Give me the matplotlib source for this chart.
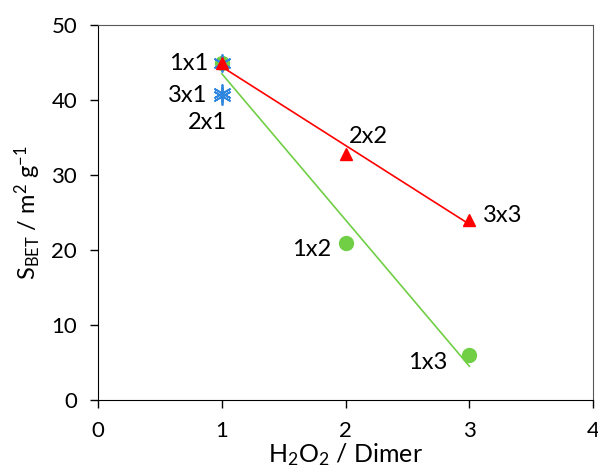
import numpy as np
import matplotlib
matplotlib.use('Agg')
import matplotlib.pyplot as plt

plt.rcParams['font.family'] = ['Lato', 'DejaVu Sans']
plt.rcParams['mathtext.default'] = 'regular'

# datos
x_green = [1, 2, 3]
y_green = [45.0, 21.0, 6.0]
x_red = [1, 2, 3]
y_red = [45.0, 32.8, 24.0]
x_blue = [1, 1, 1]
y_blue = [45.0, 41.0, 40.6]

etiquetas = ['1x1', '3x1', '2x1', '2x2', '3x3', '1x2', '1x3']
pos_x = [0.89, 0.88, 0.885, 2.03, 3.11, 1.88, 2.82]
pos_y = [44.9, 40.6, 37.0, 35.1, 24.6, 20.1, 5.0]
alineacion = ['right', 'right', 'center', 'left', 'left', 'right', 'right']

verde = '#70CF45'
rojo = '#FF0000'
azul = '#2E86DE'

fig = plt.figure(figsize=(5.98, 4.72), dpi=100)
ax = fig.add_axes([0.164, 0.1525, 0.828, 0.7945])

# lineas de tendencia (ajuste lineal)
xs = np.array([1, 3])
p_g = np.polyfit(x_green, y_green, 1)
p_r = np.polyfit(x_red, y_red, 1)
ax.plot(xs, np.polyval(p_g, xs), color=verde, lw=1.2, zorder=2)
ax.plot(xs, np.polyval(p_r, xs), color=rojo, lw=1.2, zorder=2)

ax.plot(x_green, y_green, 'o', color=verde, ms=10, zorder=3)
ax.scatter(x_blue, y_blue, marker=(6, 2, 0), s=150, color=azul, lw=1.3, zorder=4)
ax.plot(x_red, y_red, '^', color=rojo, ms=8, zorder=5)

for t, px, py, ha in zip(etiquetas, pos_x, pos_y, alineacion):
    ax.text(px, py, t, ha=ha, va='center', fontsize=17)

ax.set_xlim(0, 4)
ax.set_ylim(0, 50)
ax.set_xticks([0, 1, 2, 3, 4])
ax.set_yticks([0, 10, 20, 30, 40, 50])
ax.tick_params(direction='out', length=6, width=1, labelsize=16, pad=9)
for s in ['top', 'right']:
    ax.spines[s].set_color('#595959')
for s in ['left', 'bottom']:
    ax.spines[s].set_color('black')

ax.set_xlabel(r'H$_2$O$_2$ / Dimer', fontsize=18, labelpad=0)
ax.set_ylabel(r'S$_{BET}$ / m$^2$ g$^{-1}$', fontsize=17, labelpad=6)

plt.savefig('out.png', dpi=100)
plt.close()
